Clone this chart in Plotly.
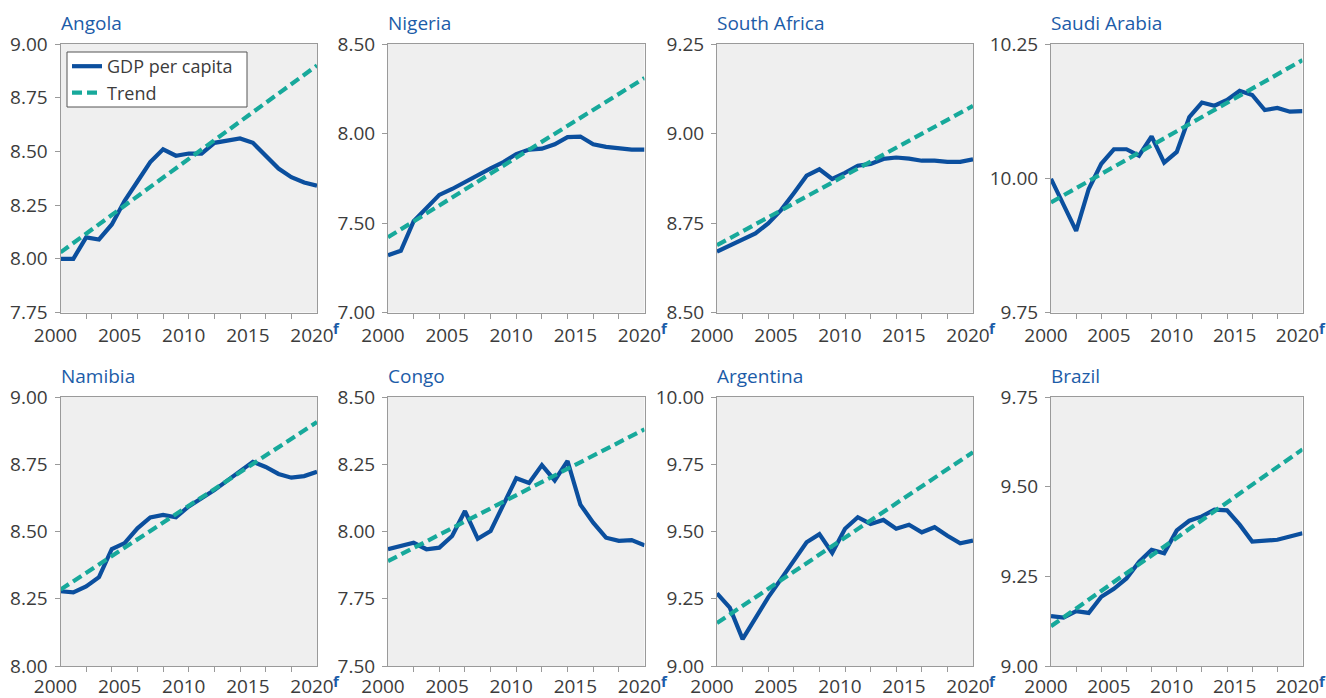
import plotly.graph_objects as go

years = list(range(2000, 2021))
trend_years = [2000, 2020]

countries = ["Angola", "Nigeria", "South Africa", "Saudi Arabia",
             "Namibia", "Congo", "Argentina", "Brazil"]

angola_gdp = [8.00, 8.00, 8.10, 8.09, 8.16, 8.27, 8.36, 8.45, 8.51, 8.48, 8.49,
              8.49, 8.54, 8.55, 8.56, 8.54, 8.48, 8.42, 8.38, 8.355, 8.34]
nigeria_gdp = [7.32, 7.345, 7.51, 7.58, 7.657, 7.69, 7.73, 7.765, 7.805, 7.84, 7.885,
               7.91, 7.915, 7.94, 7.98, 7.983, 7.94, 7.925, 7.915, 7.91, 7.91]
south_africa_gdp = [8.670, 8.687, 8.705, 8.721, 8.749, 8.786, 8.833, 8.882, 8.900, 8.873, 8.890,
                    8.910, 8.915, 8.929, 8.933, 8.930, 8.924, 8.924, 8.921, 8.921, 8.928]
saudi_gdp = [9.999, 9.952, 9.902, 9.980, 10.027, 10.054, 10.054, 10.042, 10.078, 10.029, 10.049,
             10.114, 10.141, 10.135, 10.146, 10.163, 10.155, 10.127, 10.131, 10.124, 10.125]
namibia_gdp = [8.278, 8.274, 8.296, 8.330, 8.435, 8.457, 8.512, 8.552, 8.562, 8.553, 8.593,
               8.623, 8.654, 8.689, 8.726, 8.759, 8.740, 8.714, 8.700, 8.706, 8.722]
congo_gdp = [7.934, 7.944, 7.958, 7.934, 7.940, 7.983, 8.076, 7.973, 8.002, 8.100, 8.198,
             8.180, 8.247, 8.190, 8.262, 8.100, 8.033, 7.977, 7.965, 7.968, 7.949]
argentina_gdp = [9.270, 9.217, 9.100, 9.180, 9.255, 9.323, 9.390, 9.460, 9.490, 9.420, 9.510,
                 9.553, 9.528, 9.543, 9.510, 9.525, 9.497, 9.516, 9.484, 9.456, 9.466]
brazil_gdp = [9.139, 9.135, 9.153, 9.148, 9.193, 9.215, 9.244, 9.290, 9.324, 9.314, 9.378,
              9.405, 9.417, 9.436, 9.434, 9.394, 9.347, 9.349, 9.352, 9.361, 9.370]

angola_trend = [8.03, 8.90]
nigeria_trend = [7.42, 8.31]
south_africa_trend = [8.688, 9.077]
saudi_trend = [9.955, 10.22]
namibia_trend = [8.284, 8.907]
congo_trend = [7.89, 8.38]
argentina_trend = [9.16, 9.795]
brazil_trend = [9.111, 9.604]

y_ranges = [[7.75, 9.00], [7.00, 8.50], [8.50, 9.25], [9.75, 10.25],
            [8.00, 9.00], [7.50, 8.50], [9.00, 10.00], [9.00, 9.75]]
y_dticks = [0.25, 0.5, 0.25, 0.25, 0.25, 0.25, 0.25, 0.25]
x_tick_labels = [2000, 2005, 2010, 2015, 2020]

gdp_series = [angola_gdp, nigeria_gdp, south_africa_gdp, saudi_gdp,
              namibia_gdp, congo_gdp, argentina_gdp, brazil_gdp]
trend_series = [angola_trend, nigeria_trend, south_africa_trend, saudi_trend,
                namibia_trend, congo_trend, argentina_trend, brazil_trend]

W, H = 1326, 698
cols_px = [(60.5, 317), (388, 644.5), (717, 973), (1051, 1302.5)]
rows_px = [(44, 312.5), (397, 666)]
row_label_standoff = [6, 3]
legend_box_px = (67, 52, 247, 107)

GDP_COLOR = "#0b4f9e"
TREND_COLOR = "#17a99b"
TITLE_COLOR = "#1c5ca8"
TEXT_COLOR = "#3c3c3c"
AXIS_COLOR = "#9a9a9a"
BG = "#efefef"
FONT = "Open Sans"

fig = go.Figure()
layout = dict(
    template="none",
    width=W, height=H,
    margin=dict(l=0, r=0, t=0, b=0, autoexpand=False),
    paper_bgcolor="white",
    plot_bgcolor=BG,
    font=dict(family=FONT, color=TEXT_COLOR, size=18),
    showlegend=True,
    legend=dict(
        x=67 / W, y=1 - 48 / H, xanchor="left", yanchor="top",
        bgcolor="rgba(0,0,0,0)", borderwidth=0,
        font=dict(family=FONT, size=18, color=TEXT_COLOR),
        tracegroupgap=0, itemwidth=30,
    ),
)
annotations = []

for i, name in enumerate(countries):
    r, c = divmod(i, 4)
    n = "" if i == 0 else str(i + 1)
    xa, ya = "x" + n, "y" + n
    x0, x1 = cols_px[c]
    y0, y1 = rows_px[r]
    fig.add_trace(go.Scatter(
        x=years, y=gdp_series[i], mode="lines", name="GDP per capita",
        line=dict(color=GDP_COLOR, width=4.2), xaxis=xa, yaxis=ya,
        showlegend=(i == 0),
    ))
    fig.add_trace(go.Scatter(
        x=trend_years, y=trend_series[i], mode="lines", name="Trend",
        line=dict(color=TREND_COLOR, width=4.2, dash="10px,5px"), xaxis=xa, yaxis=ya,
        showlegend=(i == 0),
    ))
    layout["xaxis" + n] = dict(
        domain=[x0 / W, x1 / W], anchor=ya, range=[2000, 2020],
        automargin=False,
        tickmode="array", tickvals=x_tick_labels,
        ticktext=[str(v) for v in x_tick_labels],
        ticks="inside", ticklen=0, tickcolor=BG,
        ticklabelstandoff=row_label_standoff[r], ticklabelshift=-5,
        minor=dict(ticks="outside", ticklen=5, tickcolor=AXIS_COLOR, tickwidth=1,
                   tickmode="linear", tick0=2000, dtick=2, showgrid=False),
        showgrid=False, zeroline=False,
        showline=True, linecolor=AXIS_COLOR, linewidth=1, mirror=True,
        tickfont=dict(family=FONT, size=19, color=TEXT_COLOR),
        fixedrange=True,
    )
    layout["yaxis" + n] = dict(
        domain=[1 - y1 / H, 1 - y0 / H], anchor=xa, range=y_ranges[i],
        automargin=False,
        tickmode="linear", tick0=y_ranges[i][0], dtick=y_dticks[i], tickformat=".2f",
        ticks="outside", ticklen=5, tickcolor=AXIS_COLOR, tickwidth=1,
        ticklabelstandoff=3,
        showgrid=False, zeroline=False,
        showline=True, linecolor=AXIS_COLOR, linewidth=1, mirror=True,
        tickfont=dict(family=FONT, size=19, color=TEXT_COLOR),
        fixedrange=True,
    )
    annotations.append(dict(
        text=name, xref=xa + " domain", yref=ya + " domain", x=0, y=1,
        xanchor="left", yanchor="bottom", yshift=6, xshift=-2, showarrow=False,
        font=dict(family=FONT, size=19, color=TITLE_COLOR),
    ))
    annotations.append(dict(
        text="<b>f</b>", xref=xa + " domain", yref=ya + " domain", x=1, y=0,
        xanchor="left", yanchor="top", xshift=14, yshift=-3, showarrow=False,
        font=dict(family=FONT, size=15, color=TITLE_COLOR),
    ))

lx0, ly0, lx1, ly1 = legend_box_px
layout["shapes"] = [dict(
    type="rect", xref="paper", yref="paper",
    x0=lx0 / W, x1=lx1 / W, y0=1 - ly1 / H, y1=1 - ly0 / H,
    line=dict(color="#555555", width=1), fillcolor="white", layer="below",
)]
layout["annotations"] = annotations
fig.update_layout(**layout)
fig.write_html(
    "out.html",
    config={"displayModeBar": False, "staticPlot": False},
    post_script="document.body.style.margin='0';"
                "document.documentElement.style.overflow='hidden';",
)
